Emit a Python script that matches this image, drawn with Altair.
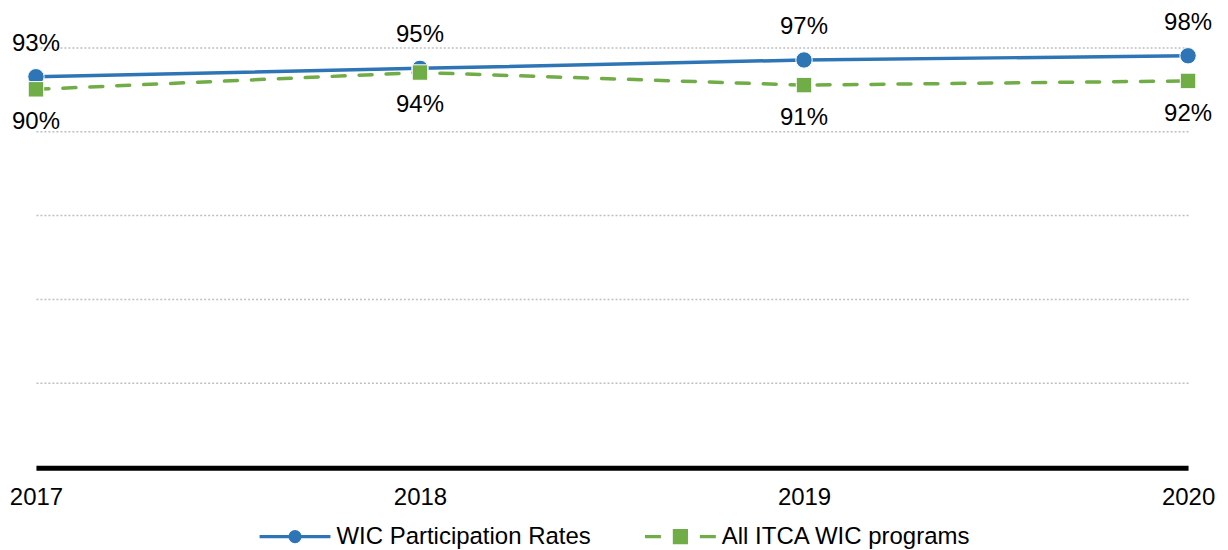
import altair as alt
import pandas as pd

# ---- data ----
years = [2017, 2018, 2019, 2020]
wic_rates = [93, 95, 97, 98]
itca_rates = [90, 94, 91, 92]
series_names = ["WIC Participation Rates", "All ITCA WIC programs"]
grid_values = [20, 40, 60, 80, 100]

BLUE = "#2E75B6"
GREEN = "#70AD47"
FONT = "Liberation Sans"

wic_df = pd.DataFrame({"year": years, "value": wic_rates, "series": series_names[0]})
itca_df = pd.DataFrame({"year": years, "value": itca_rates, "series": series_names[1]})

x_enc = alt.X(
    "year:Q",
    scale=alt.Scale(domain=[years[0], years[-1]], nice=False, zero=False),
    axis=alt.Axis(values=years, format="d", title=None, ticks=False, tickSize=0, grid=False,
                  domainColor="black", domainWidth=5, offset=1, labelFontSize=24,
                  labelFont=FONT, labelColor="black", labelPadding=18, labelFlush=False),
)
y_enc = alt.Y(
    "value:Q",
    scale=alt.Scale(domain=[0, 100], nice=False),
    axis=alt.Axis(values=grid_values, labels=False, ticks=False, domain=False, title=None,
                  grid=True, gridDash=[2, 2], gridColor="#bfbfbf", gridWidth=1.5),
)

wic = alt.Chart(wic_df)
itca = alt.Chart(itca_df)

wic_line = wic.mark_line(color=BLUE, strokeWidth=3.5).encode(x=x_enc, y=y_enc)
wic_pts = wic.mark_point(shape="circle", filled=True, size=270, color=BLUE, opacity=1,
                         stroke="white", strokeWidth=1).encode(x=x_enc, y=y_enc)
itca_line = itca.mark_line(color=GREEN, strokeWidth=3.5, strokeDash=[13, 14],
                           strokeCap="round").encode(x=x_enc, y=y_enc)
itca_pts = itca.mark_point(shape="square", filled=True, size=240, color=GREEN, opacity=1,
                           stroke="white", strokeWidth=1).encode(x=x_enc, y=y_enc)

wic_lbl = wic.transform_calculate(label="datum.value + '%'").mark_text(
    dy=-33, fontSize=24, font=FONT, color="black").encode(x=x_enc, y=y_enc, text="label:N")
itca_lbl = itca.transform_calculate(label="datum.value + '%'").mark_text(
    dy=33, fontSize=24, font=FONT, color="black").encode(x=x_enc, y=y_enc, text="label:N")

blue_path = "M-1,0L6.1,0M2.05,0A0.5,0.5,0,1,0,3.05,0A0.5,0.5,0,1,0,2.05,0Z"
green_path = "M-1,0L0.6,0M4.5,0L6.1,0M1.95,-0.6L3.15,-0.6L3.15,0.6L1.95,0.6Z"


def legend_for(path, color, lx):
    return alt.Legend(title=None, orient="none", legendX=lx, legendY=478,
                      symbolType=path, symbolSize=400, symbolStrokeWidth=3.2,
                      symbolFillColor=color, symbolOpacity=1,
                      labelFontSize=24, labelFont=FONT, labelColor="black",
                      labelOffset=55, labelLimit=500)


wic_key = wic.transform_filter("false").mark_line(strokeWidth=3.2).encode(
    x=x_enc, y=y_enc,
    color=alt.Color("series:N", scale=alt.Scale(domain=[series_names[0]], range=[BLUE]),
                    legend=legend_for(blue_path, BLUE, 222)))
itca_key = itca.transform_filter("false").mark_line(strokeWidth=3.2).encode(
    x=x_enc, y=y_enc,
    color=alt.Color("series:N", scale=alt.Scale(domain=[series_names[1]], range=[GREEN]),
                    legend=legend_for(green_path, GREEN, 608)))

chart = (
    alt.layer(wic_line, wic_pts, itca_line, itca_pts, wic_lbl, itca_lbl, wic_key, itca_key)
    .resolve_scale(color="independent")
    .properties(width=1154, height=420,
                padding={"left": 1, "top": 2, "right": 5, "bottom": 0})
    .configure_view(stroke=None)
)

chart.save("out.html", embed_options={"renderer": "svg", "actions": False})
